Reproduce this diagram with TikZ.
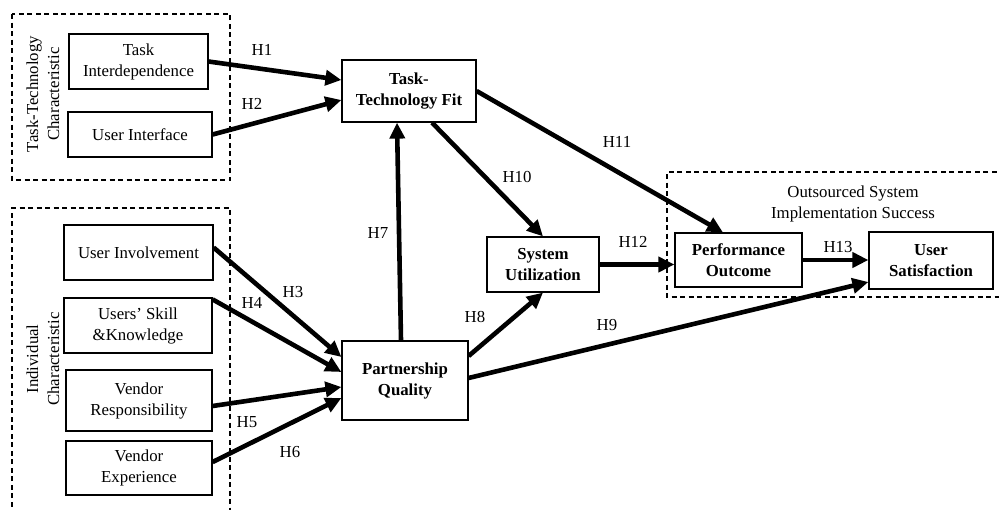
\documentclass[tikz,border=0pt]{standalone}
\usepackage{fontspec}
\setmainfont{Liberation Serif}
\usetikzlibrary{arrows.meta}
\begin{document}
\begin{tikzpicture}[x=1pt,y=-1pt,
  every node/.style={font=\fontsize{16.8}{21}\selectfont},
  box/.style={draw, line width=1.2pt, align=center, inner sep=0pt},
  bbox/.style={box, font=\fontsize{16.8}{21}\selectfont\bfseries},
  grp/.style={draw, line width=1.1pt, dash pattern=on 5pt off 3.5pt},
  arr/.style={line width=4.6pt, -{Triangle[length=16pt,width=15pt]}},
  hlab/.style={inner sep=0pt}
]
\useasboundingbox (0,0) rectangle (999,509);

% group boxes
\draw[grp] (12,14) rectangle (230,180);
\draw[grp] (12,515) -- (12,208) -- (230,208) -- (230,515);
\draw[grp] (1005,172) -- (667,172) -- (667,297) -- (1005,297);

\node[rotate=90, align=center] (g1) at (43,94) {Task-Technology\\Characteristic};
\node[rotate=90, align=center] (g2) at (43,359) {Individual\\Characteristic};
\node[align=center] (g3) at (853,204) {Outsourced System\\Implementation Success};

% boxes
\node[box, minimum width=139pt, minimum height=55pt] (TI) at (138.5,61.5) {Task\\Interdependence};
\node[box, minimum width=144pt, minimum height=45pt] (UI) at (140,134.5) {User Interface};
\node[box, minimum width=149pt, minimum height=55pt] (UIv) at (138.5,252.5) {User Involvement};
\node[box, minimum width=148pt, minimum height=55pt] (USK) at (138,325.5) {Users’ Skill\\\&Knowledge};
\node[box, minimum width=146pt, minimum height=61pt] (VR) at (139,400.5) {Vendor\\Responsibility};
\node[box, minimum width=146pt, minimum height=54pt] (VE) at (139,468) {Vendor\\Experience};

\node[bbox, minimum width=134pt, minimum height=62pt] (TTF) at (409,91) {Task-\\Technology Fit};
\node[bbox, minimum width=112pt, minimum height=55pt] (SU) at (543,264.5) {System\\Utilization};
\node[bbox, minimum width=126pt, minimum height=79pt] (PQ) at (405,380.5) {Partnership\\Quality};
\node[bbox, minimum width=127pt, minimum height=54pt] (PO) at (738.5,260) {Performance\\Outcome};
\node[bbox, minimum width=124pt, minimum height=57pt] (US) at (931,260.5) {User\\Satisfaction};

% arrows
\draw[arr] (TI.east) -- ([yshift=11pt]TTF.west);
\draw[arr] (UI.east) -- ([yshift=-9pt]TTF.west);
\draw[arr] ([yshift=5pt]UIv.east) -- ([yshift=23.5pt]PQ.west);
\draw[arr] ([yshift=-2pt]USK.north east) -- ([yshift=8.5pt]PQ.west);
\draw[arr] ([yshift=-5.5pt]VR.east) -- ([yshift=-6.5pt]PQ.west);
\draw[arr] ([yshift=6pt]VE.east) -- ([yshift=-17.5pt]PQ.west);
\draw[arr] ([xshift=-4pt]PQ.north) -- ([xshift=-12pt]TTF.south);
\draw[arr] ([yshift=24.5pt]PQ.east) -- (SU.south);
\draw[arr] ([yshift=2.5pt]PQ.east) -- ([yshift=-21.5pt]US.west);
\draw[arr] ([xshift=23pt]TTF.south) -- (SU.north);
\draw[arr] (TTF.east) -- ([xshift=-15.5pt]PO.north);
\draw[arr] (SU.east) -- (SU.east -| PO.west);
\draw[arr] (PO.east) -- (PO.east -| US.west);

% labels
\node[hlab] (h1) at (262,50) {H1};
\node[hlab] (h2) at (252,104) {H2};
\node[hlab] (h3) at (293,292) {H3};
\node[hlab] (h4) at (252,303) {H4};
\node[hlab] (h5) at (247,422) {H5};
\node[hlab] (h6) at (290,452) {H6};
\node[hlab] (h7) at (378,233) {H7};
\node[hlab] (h8) at (475,317) {H8};
\node[hlab] (h9) at (607,325) {H9};
\node[hlab] (h10) at (517,177) {H10};
\node[hlab] (h11) at (617,142) {H11};
\node[hlab] (h12) at (633,242) {H12};
\node[hlab] (h13) at (838,247) {H13};
\end{tikzpicture}
\end{document}
